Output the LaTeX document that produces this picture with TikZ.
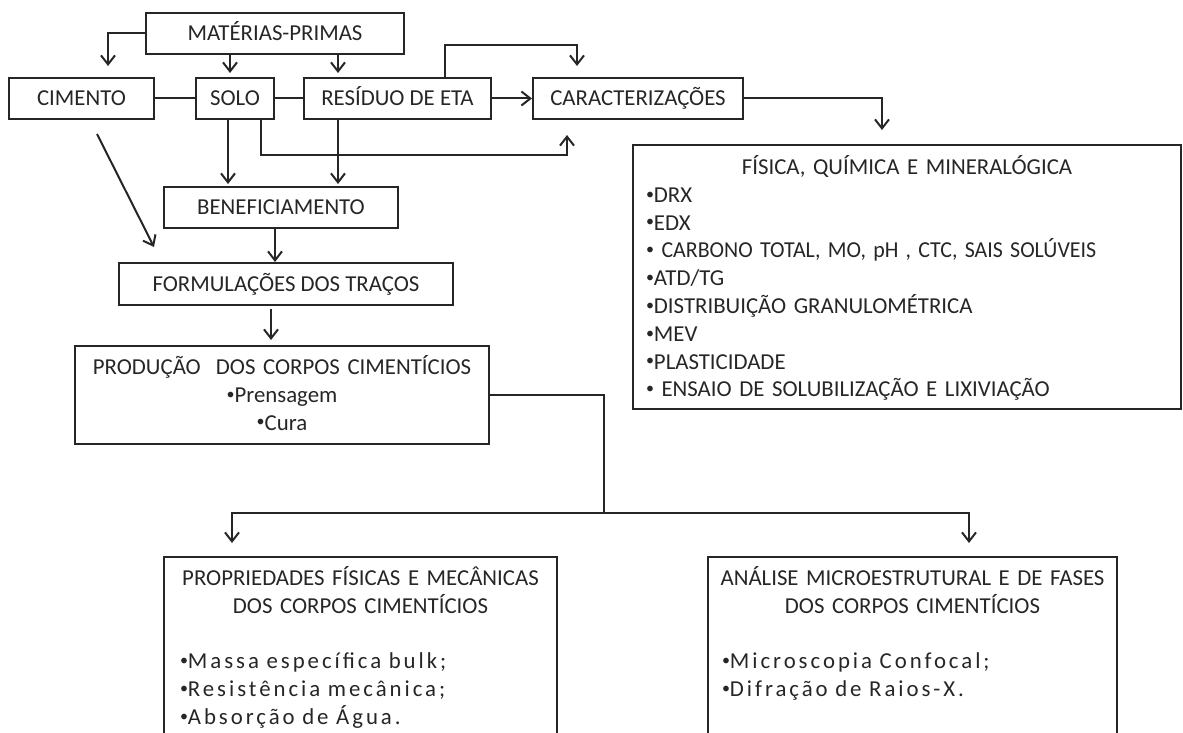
\documentclass[tikz,border=0pt]{standalone}
\usepackage{fontspec}
\setmainfont{Carlito}
\newfontfamily\largo[LetterSpace=13]{Carlito}
\usepackage{graphicx}
\usepackage{tikz}
\usetikzlibrary{arrows.meta}
\definecolor{ink}{RGB}{38,38,38}
\newcommand{\bul}{\raisebox{1.6pt}{\fontsize{8pt}{8pt}\selectfont\textbullet}}
\tikzstyle{Box}=[rectangle, draw=ink, inner sep=0pt, text height=7.34pt, text depth=0pt, minimum height=20.5pt]
\tikzstyle{List}=[rectangle, draw=ink, inner sep=0pt, align=left]

\begin{document}
\begin{tikzpicture}[x=0.5pt, y=-0.5pt, color=ink, line width=1pt,
    font=\fontsize{11.4pt}{13.9pt}\selectfont,
    >={Straight Barb[length=4.5pt,width=7pt]}]
    \useasboundingbox (0,0) rectangle (1183,733);
    \path
    (275,33.5) node[Box, minimum width=129pt] (mp) {MATÉRIAS-PRIMAS}
    (81.5,98.5) node[Box, minimum width=72.5pt] (cim) {CIMENTO}
    (235,98.5) node[Box, minimum width=39pt] (solo) {SOLO}
    (397.5,98.5) node[Box, minimum width=93.5pt] (res) {RESÍDUO DE ETA}
    (638,98.5) node[Box, minimum width=105pt] (car) {CARACTERIZAÇÕES}
    (281,207.5) node[Box, minimum width=117pt] (ben) {BENEFICIAMENTO}
    (286,284) node[Box, minimum width=167pt, minimum height=21pt] (form) {FORMULAÇÕES DOS TRAÇOS};
    \path
    (282,345) node[List, anchor=north, text width=207pt, align=center, text height=14.25pt, text depth=34.75pt] (prod)
        {PRODUÇÃO\ \ DOS CORPOS CIMENTÍCIOS\\ \bul Prensagem\\ \bul Cura}
    (907,144) node[List, anchor=north, text width=261pt, minimum width=274pt, text height=14.75pt, text depth=117.25pt] (fis)
        {\makebox[\hsize]{FÍSICA, QUÍMICA E MINERALÓGICA}\\ \bul DRX\\ \bul EDX\\
         \bul\ \scalebox{0.96}[1]{CARBONO TOTAL, MO, pH , CTC, SAIS SOLÚVEIS}\\ \bul ATD/TG\\
         \bul DISTRIBUIÇÃO GRANULOMÉTRICA\\ \bul MEV\\ \bul PLASTICIDADE\\
         \bul\ ENSAIO DE SOLUBILIZAÇÃO E LIXIVIAÇÃO}
    (360.5,556) node[List, anchor=north, text width=180.5pt, minimum width=196.5pt, text height=14.25pt, text depth=85pt] (prop)
        {\makebox[\hsize]{PROPRIEDADES FÍSICAS E MECÂNICAS}\\ \makebox[\hsize]{DOS CORPOS CIMENTÍCIOS}\\[13.9pt]
         \bul{\largo Massa específica bulk;}\\ \bul{\largo Resistência mecânica;}\\ \bul{\largo Absorção de Água.}}
    (912.5,556) node[List, anchor=north, text width=190.5pt, minimum width=204.5pt, text height=14.25pt, text depth=85pt] (ana)
        {\makebox[\hsize]{ANÁLISE MICROESTRUTURAL E DE FASES}\\ \makebox[\hsize]{DOS CORPOS CIMENTÍCIOS}\\[13.9pt]
         \bul{\largo Microscopia Confocal;}\\ \bul{\largo Difração de Raios-X.}};

    \draw[->, shorten >=5.5pt] (mp.west) -| ([xshift=13.25pt]cim.north);
    \draw[->, shorten >=2pt] ([xshift=-2.5pt]solo.north |- mp.south) -- ([xshift=-2.5pt]solo.north);
    \draw[->, shorten >=2pt] ([xshift=-29.75pt]res.north |- mp.south) -- ([xshift=-29.75pt]res.north);
    \draw (cim) -- (solo) -- (res);
    \draw[->] (res) -- (car);
    \draw[->, shorten >=5.5pt] ([xshift=23.75pt]res.north) -- ++(0,-32) -| ([xshift=-30.5pt]car.north);
    \draw[->, shorten >=7.5pt] ([xshift=13pt]solo.south) -- ++(0,35) -| ([xshift=-35.5pt]car.south);
    \draw[->, shorten >=1pt] ([xshift=-3.5pt]solo.south) -- ([xshift=-3.5pt]solo.south |- ben.north);
    \draw[->, shorten >=1pt] ([xshift=-29.75pt]res.south) -- ([xshift=-29.75pt]res.south |- ben.north);
    \draw[->] ([shift={(15.5,14)}]cim.south) -- ([shift={(36,-15)}]form.north west);
    \draw[->] ([xshift=-3pt]ben.south) -- ([xshift=-3pt]ben.south |- form.north);
    \draw[->, shorten <=1.5pt, shorten >=2.5pt] ([xshift=-7.5pt]form.south) -- ([xshift=-7.5pt]form.south |- prod.north);
    \draw[->, shorten >=7pt] (car.east) -| ([xshift=-12.5pt]fis.north);
    \coordinate (split) at (604,513);
    \draw (prod.east) -| (split);
    \draw[->, shorten >=6.5pt] (split) -| ([xshift=-64.25pt]prop.north);
    \draw[->, shorten >=6.5pt] (split) -| ([xshift=28.25pt]ana.north);
\end{tikzpicture}
\end{document}
